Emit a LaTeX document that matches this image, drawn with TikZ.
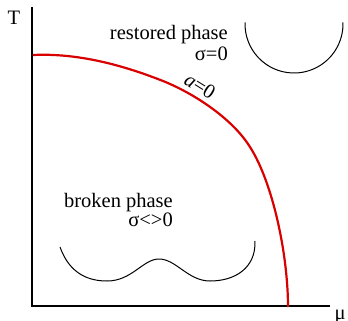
\documentclass[tikz,border=0pt]{standalone}
\usepackage{fontspec}
\setmainfont{Liberation Serif}
\begin{document}
\begin{tikzpicture}[x=1pt,y=-1pt,
  lbl/.style={inner sep=0pt, font=\fontsize{20.5}{22}\selectfont},
  axis/.style={line width=1.8pt, black},
  crit/.style={line width=2.2pt, red!85!black},
  pot/.style={line width=1pt, black}]
\useasboundingbox (0,0) rectangle (348,321);
\coordinate (O) at (32,306);
\coordinate (Ttop) at (32,7);
\coordinate (Mend) at (330,306);
\draw[axis] (Ttop) -- (O) -- (Mend);
\node[lbl, anchor=base] (T) at (14,25) {T};
\node[lbl, anchor=base] (mu) at (340,319) {μ};
% critical line
\coordinate (c0) at (33,55);
\coordinate (c1) at (163,81);
\coordinate (c2) at (250,147);
\coordinate (c3) at (288,307);
\draw[crit] (c0) .. controls (76,53) and (120,64) .. (c1)
  .. controls (193,93) and (232,118) .. (c2)
  .. controls (273,183) and (288,255) .. (c3);
\node[lbl, anchor=center, rotate=-32] (a0) at (200,86) {\itshape a\upshape=0};
% restored phase
\node[lbl, anchor=base east] (rp) at (228,40) {restored phase};
\node[lbl, anchor=base east] (rs) at (228,60) {σ=0};
\draw[pot] (294,24) ++(182:49) arc[start angle=182, end angle=-2, radius=49];
% broken phase
\node[lbl, anchor=base east] (bp) at (173,207) {broken phase};
\node[lbl, anchor=base east] (bs) at (173,226) {σ<>0};
\draw[pot] (60,247) .. controls (70,275) and (90,281) .. (107,281)
  .. controls (132,281) and (143,259) .. (159,259)
  .. controls (176,259) and (188,281) .. (210,281)
  .. controls (235,281) and (256,268) .. (255,241);
\end{tikzpicture}
\end{document}
